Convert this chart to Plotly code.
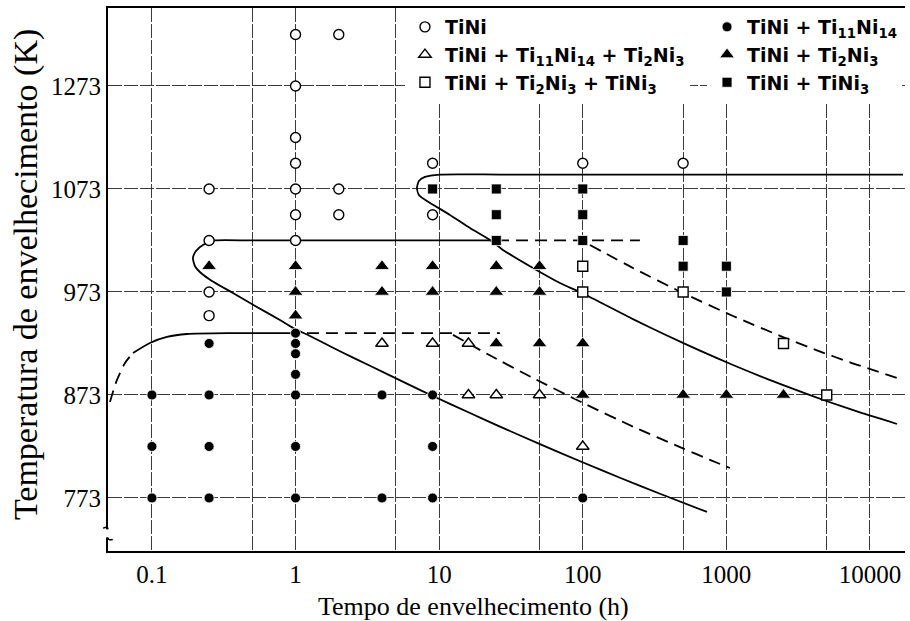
import plotly.graph_objects as go

# ---------------- data (time in h, temperature in K as placed on the drawn axis) ----------------
tini_t = [1, 2, 1, 1, 1, 9, 100, 500, 0.25, 1, 2, 1, 2, 9, 0.25, 1, 0.25, 0.25]
tini_T = [1223, 1223, 1173, 1123, 1098, 1098, 1098, 1098, 1073, 1073, 1073, 1048, 1048, 1048, 1023, 1023, 973, 950]

t1114_t = [1, 0.25, 1, 1, 1, 0.1, 0.25, 1, 4, 9, 0.1, 0.25, 1, 9, 0.1, 0.25, 1, 4, 9, 100]
t1114_T = [933, 923, 923, 913, 893, 873, 873, 873, 873, 873, 823, 823, 823, 823, 773, 773, 773, 773, 773, 773]

t1114_23_t = [4, 9, 16, 16, 25, 50, 100]
t1114_23_T = [923, 923, 923, 873, 873, 873, 823]

t23_t = [0.25, 1, 4, 9, 25, 50, 1, 4, 9, 25, 50, 1, 25, 50, 100, 100, 500, 1000, 2500]
t23_T = [998, 998, 998, 998, 998, 998, 973, 973, 973, 973, 973, 950, 923, 923, 923, 873, 873, 873, 873]

t23_3_t = [100, 100, 500, 2500, 5000]
t23_3_T = [998, 973, 973, 923, 873]

t3_t = [9, 25, 100, 25, 100, 25, 100, 500, 500, 1000, 1000]
t3_T = [1073, 1073, 1073, 1048, 1048, 1023, 1023, 1023, 998, 998, 973]

# boundary curves
curveA_solid_t = [0.0738, 0.0968, 0.1272, 0.1754, 0.3665, 0.96]
curveA_solid_T = [913.8, 923.5, 929.3, 932.2, 933, 933]
curveA_dash_t = [0.0510, 0.0535, 0.0571, 0.0649, 0.0738]
curveA_dash_T = [866.2, 875.9, 887.6, 904.1, 913.8]
curveA_hdash_t = [1.2, 26.5]
curveA_hdash_T = [933, 933]

curveB_t = [25.26, 10.13, 2.39, 0.99, 0.4815, 0.2747, 0.2265, 0.2025, 0.193, 0.1992, 0.2195, 0.2617,
            0.3665, 0.5384, 0.7788, 0.99, 1.26, 2.038, 3.298, 6.262, 9.05, 16.39, 26.51, 50.35, 98.7,
            181.6, 344.9, 732.8]
curveB_T = [1023, 1023, 1023, 1023, 1023, 1023, 1018.6, 1012.8, 1006, 998.2, 991.4, 983.7,
            972, 958.4, 945.8, 937.1, 930.3, 915.5, 901.3, 882.5, 872, 855.5, 842.3, 825.2, 807.9,
            792.6, 777.1, 759.4]
curveB_hdash_t = [25.3, 250]
curveB_hdash_T = [1023, 1023]

curveC_t = [17000, 3254, 655, 131.8, 26.5, 10.13, 7.96, 7.23, 7.004, 7.23, 8.225, 11.89, 16.39, 22.59,
            27.82, 45.0, 69.4, 98.7, 223.7, 385.8, 655, 1112, 1917, 3254, 5019, 8519, 15417]
curveC_T = [1087, 1087, 1087, 1087, 1087, 1087, 1084.7, 1080.8, 1074, 1067.2, 1061.3, 1047.8, 1035.1, 1023.5,
            1013.8, 996.3, 981.7, 972, 946.6, 930.7, 916, 902.1, 888.6, 876.4, 866.9, 856, 844.8]
curveC_dash_t = [112.2, 223.7, 498.6, 1112, 2479, 4275, 7257, 16180]
curveC_dash_T = [1018.6, 996.3, 972, 949.7, 929.2, 916.3, 904.7, 888.5]

curveD_dash_t = [12.48, 21.52, 45.0, 103.6, 223.7, 498.6, 768.8, 1059]
curveD_dash_T = [931.3, 913, 889.5, 864.3, 842.3, 821.1, 810, 802.1]

x_tickvals = [0.1, 0.5, 1, 5, 10, 50, 100, 500, 1000, 5000, 10000]
x_ticktext = ["0.1", "", "1", "", "10", "", "100", "", "1000", "", "10000"]
y_tickvals = [773, 873, 973, 1073, 1173]
y_ticktext = ["773", "873", "973", "1073", "1273"]

# ---------------- figure ----------------
fig = go.Figure()

SERIF = "Liberation Serif, Times New Roman, serif"
DASH = "12px,7px"
LW = 1.8

def add_line(t, T, dash=None):
    fig.add_trace(go.Scatter(x=t, y=T, mode="lines", showlegend=False, hoverinfo="skip",
                             line=dict(color="black", width=LW, dash=dash or "solid",
                                       shape="spline", smoothing=0.6)))

add_line(curveA_solid_t, curveA_solid_T)
add_line(curveA_dash_t, curveA_dash_T, DASH)
add_line(curveA_hdash_t, curveA_hdash_T, DASH)
add_line(curveB_t, curveB_T)
add_line(curveB_hdash_t, curveB_hdash_T, DASH)
add_line(curveC_t, curveC_T)
add_line(curveC_dash_t, curveC_dash_T, DASH)
add_line(curveD_dash_t, curveD_dash_T, DASH)

open_m = lambda sym, s: dict(symbol=sym, size=s, color="white", line=dict(color="black", width=1.4))
fill_m = lambda sym, s: dict(symbol=sym, size=s, color="black", line=dict(color="white", width=0.8))

series = [
    ("<b>TiNi</b>", tini_t, tini_T, open_m("circle", 10), "legend"),
    ("<b>TiNi + Ti<sub>11</sub>Ni<sub>14</sub> + Ti<sub>2</sub>Ni<sub>3</sub></b>", t1114_23_t, t1114_23_T, open_m("triangle-up", 11), "legend"),
    ("<b>TiNi + Ti<sub>2</sub>Ni<sub>3</sub> + TiNi<sub>3</sub></b>", t23_3_t, t23_3_T, open_m("square", 10), "legend"),
    ("<b>TiNi + Ti<sub>11</sub>Ni<sub>14</sub></b>", t1114_t, t1114_T, fill_m("circle", 10), "legend2"),
    ("<b>TiNi + Ti<sub>2</sub>Ni<sub>3</sub></b>", t23_t, t23_T, fill_m("triangle-up", 13), "legend2"),
    ("<b>TiNi + TiNi<sub>3</sub></b>", t3_t, t3_T, fill_m("square", 10), "legend2"),
]
for name, t, T, m, lg in series:
    fig.add_trace(go.Scatter(x=t, y=T, mode="markers", name=name, marker=m, legend=lg))

grid = dict(gridcolor="#3a3a3a", gridwidth=1, griddash="14px,2px")
legfont = dict(family="DejaVu Sans", size=19, color="black")

shapes = [
    # white panel behind the legend block (hides grid lines there)
    dict(type="rect", xref="paper", yref="paper", x0=0.3726, x1=0.9724, y0=0.8453, y1=0.996,
         fillcolor="white", line=dict(width=0), layer="between"),
    # axis break on the left axis near the bottom
    dict(type="rect", xref="paper", yref="paper", x0=-0.006, x1=0.006, y0=0.025, y1=0.04,
         fillcolor="white", line=dict(width=0), layer="above"),
    dict(type="path", xref="paper", yref="paper",
         path="M -0.006 0.042 Q 0.0 0.046 0.0 0.040", line=dict(color="black", width=1.5), layer="above"),
    dict(type="path", xref="paper", yref="paper",
         path="M 0.0 0.025 Q 0.0 0.019 0.006 0.021", line=dict(color="black", width=1.5), layer="above"),
]

fig.update_layout(
    width=910, height=621, autosize=False,
    margin=dict(l=108, r=5, t=8, b=70),
    paper_bgcolor="white", plot_bgcolor="white",
    font=dict(family=SERIF, color="black"),
    xaxis=dict(type="log", range=[-1.306, 4.244], tickvals=x_tickvals, ticktext=x_ticktext,
               showline=True, linecolor="black", linewidth=2, mirror=True,
               ticks="",
               tickfont=dict(family=SERIF, size=25, color="black"), zeroline=False, **grid),
    yaxis=dict(range=[721.5, 1248.7], tickvals=y_tickvals, ticktext=y_ticktext,
               showline=True, linecolor="black", linewidth=2, mirror=False,
               ticks="",
               tickfont=dict(family=SERIF, size=25, color="black"), zeroline=False, **grid),
    legend=dict(x=0.3726, y=1.0, xanchor="left", yanchor="top", bgcolor="white",
                font=legfont, tracegroupgap=0, itemwidth=30),
    legend2=dict(x=0.7516, y=1.0, xanchor="left", yanchor="top", bgcolor="white",
                 font=legfont, tracegroupgap=0, itemwidth=30),
    shapes=shapes,
    annotations=[
        dict(text="Tempo de envelhecimento (h)", xref="paper", yref="paper", x=0.458, y=-0.103,
             xanchor="center", yanchor="middle", showarrow=False,
             font=dict(family=SERIF, size=26)),
        dict(text="Temperatura de envelhecimento (K)", xref="paper", yref="paper", x=-0.1029, y=0.51,
             xanchor="center", yanchor="middle", showarrow=False, textangle=-90,
             font=dict(family=SERIF, size=34)),
    ],
)

fig.write_html("out.html")
